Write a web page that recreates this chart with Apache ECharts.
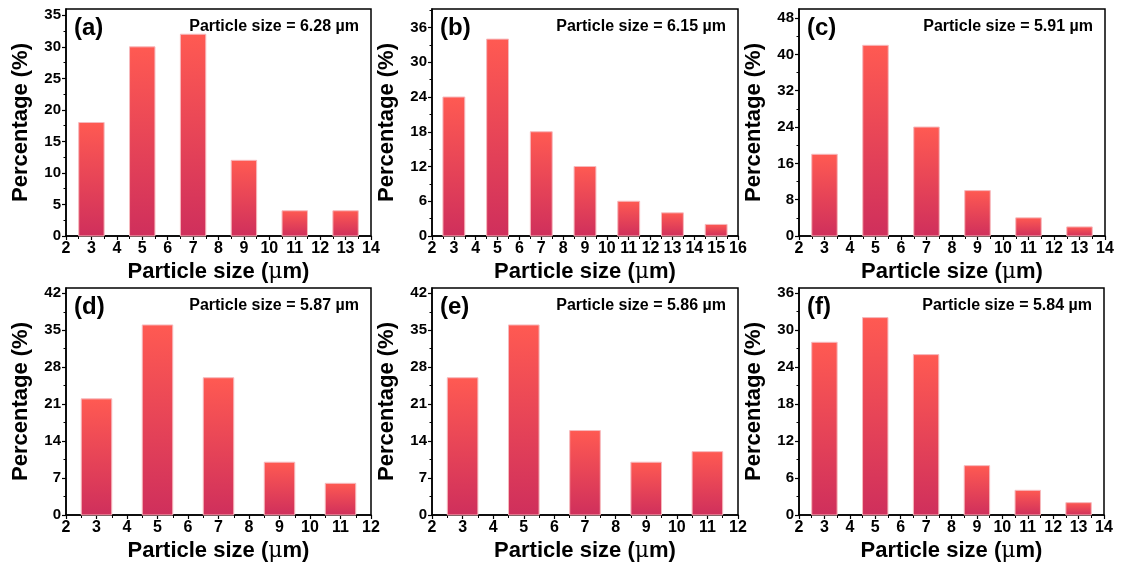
<!DOCTYPE html>
<html>
<head>
<meta charset="utf-8">
<script src="https://cdn.jsdelivr.net/npm/echarts@6/dist/echarts.min.js"></script>
<style>
  html, body { margin: 0; padding: 0; background: #fff; }
  #main { width: 1123px; height: 572px; }
</style>
</head>
<body>
<div id="main"></div>
<script>
// ---- data ----
const panelTags = ['(a)', '(b)', '(c)', '(d)', '(e)', '(f)'];
const meanSizes = ['6.28', '6.15', '5.91', '5.87', '5.86', '5.84'];

const sizesA = [3, 5, 7, 9, 11, 13];
const pctA = [18, 30, 32, 12, 4, 4];
const sizesB = [3, 5, 7, 9, 11, 13, 15];
const pctB = [24, 34, 18, 12, 6, 4, 2];
const sizesC = [3, 5, 7, 9, 11, 13];
const pctC = [18, 42, 24, 10, 4, 2];
const sizesD = [3, 5, 7, 9, 11];
const pctD = [22, 36, 26, 10, 6];
const sizesE = [3, 5, 7, 9, 11];
const pctE = [26, 36, 16, 10, 12];
const sizesF = [3, 5, 7, 9, 11, 13];
const pctF = [28, 32, 26, 8, 4, 2];

const yTicksA = [0, 5, 10, 15, 20, 25, 30, 35];
const yTicksB = [0, 6, 12, 18, 24, 30, 36];
const yTicksC = [0, 8, 16, 24, 32, 40, 48];
const yTicksD = [0, 7, 14, 21, 28, 35, 42];
const yTicksE = [0, 7, 14, 21, 28, 35, 42];
const yTicksF = [0, 6, 12, 18, 24, 30, 36];

const xMaxes = [14, 16, 14, 12, 12, 14];
const yMaxes = [36, 39.2, 50, 43, 43, 36.8];

const allSizes = [sizesA, sizesB, sizesC, sizesD, sizesE, sizesF];
const allPct = [pctA, pctB, pctC, pctD, pctE, pctF];
const allYTicks = [yTicksA, yTicksB, yTicksC, yTicksD, yTicksE, yTicksF];

// ---- layout ----
const grids = [
  { left: 66, top: 9, width: 305, height: 227 },
  { left: 432, top: 9, width: 306, height: 227 },
  { left: 799, top: 9, width: 306, height: 227 },
  { left: 66, top: 288, width: 305, height: 227 },
  { left: 432, top: 288, width: 306, height: 227 },
  { left: 799, top: 288, width: 305, height: 227 }
];

const FONT = '"Liberation Sans", Arial, sans-serif';
const ink = '#000';

const chart = echarts.init(document.getElementById('main'));

const xAxes = [], yAxes = [], series = [], graphics = [];

grids.forEach((g, i) => {
  xAxes.push({
    gridIndex: i, type: 'value', min: 2, max: xMaxes[i], interval: 1,
    name: 'Particle size ({mu|μ}m)', nameLocation: 'middle', nameGap: 25,
    nameTextStyle: {
      fontFamily: FONT, fontWeight: 'bold', fontSize: 22, color: ink,
      rich: { mu: { fontFamily: '"DejaVu Serif", serif', fontWeight: 'normal', fontSize: 22, color: ink } }
    },
    axisLine: { lineStyle: { color: ink, width: 1.5 } },
    axisTick: { inside: false, length: 4, lineStyle: { color: ink, width: 1.2 } },
    minorTick: { show: true, splitNumber: 2, length: 3, lineStyle: { color: ink, width: 1 } },
    axisLabel: { fontFamily: FONT, fontWeight: 'bold', fontSize: 16, color: ink, margin: 5 },
    splitLine: { show: false }
  });
  yAxes.push({
    gridIndex: i, type: 'value', min: 0, max: yMaxes[i],
    interval: allYTicks[i][1],
    name: 'Percentage (%)', nameLocation: 'middle', nameGap: 34,
    nameTextStyle: { fontFamily: FONT, fontWeight: 'bold', fontSize: 22, color: ink },
    axisLine: { show: true, lineStyle: { color: ink, width: 1.5 } },
    axisTick: { show: true, length: 4, customValues: allYTicks[i], lineStyle: { color: ink, width: 1.2 } },
    minorTick: { show: true, splitNumber: 2, length: 2.5, lineStyle: { color: ink, width: 1 } },
    axisLabel: { fontFamily: FONT, fontWeight: 'bold', fontSize: 15, color: ink, margin: 5, customValues: allYTicks[i] },
    splitLine: { show: false }
  });
  series.push({
    type: 'custom', xAxisIndex: i, yAxisIndex: i,
    data: allSizes[i].map((s, k) => [s, allPct[i][k]]),
    renderItem: function (params, api) {
      const x = api.value(0), y = api.value(1);
      const p0 = api.coord([x - 0.5, y]);
      const p1 = api.coord([x + 0.5, 0]);
      return {
        type: 'rect',
        shape: { x: p0[0], y: p0[1], width: p1[0] - p0[0], height: p1[1] - p0[1] },
        style: {
          fill: new echarts.graphic.LinearGradient(0, 0, 0, 1, [
            { offset: 0, color: '#ff5a52' },
            { offset: 1, color: '#cf2f5c' }
          ]),
          stroke: '#f6b9bd', lineWidth: 1
        }
      };
    }
  });
  graphics.push({
    type: 'text', left: g.left + 8, top: g.top + 7,
    style: { text: panelTags[i], fontFamily: FONT, fontWeight: 'bold', fontSize: 24, fill: ink }
  });
  graphics.push({
    type: 'text', right: 1123 - (g.left + g.width) + 12, top: g.top + 10,
    style: { text: 'Particle size = ' + meanSizes[i] + ' µm', fontFamily: FONT, fontWeight: 'bold', fontSize: 16, fill: ink }
  });
});

chart.setOption({
  backgroundColor: '#fff',
  animation: false,
  grid: grids.map(g => Object.assign({ show: true, borderColor: ink, borderWidth: 1.5, containLabel: false }, g)),
  xAxis: xAxes,
  yAxis: yAxes,
  series: series,
  graphic: graphics
});
</script>
</body>
</html>
